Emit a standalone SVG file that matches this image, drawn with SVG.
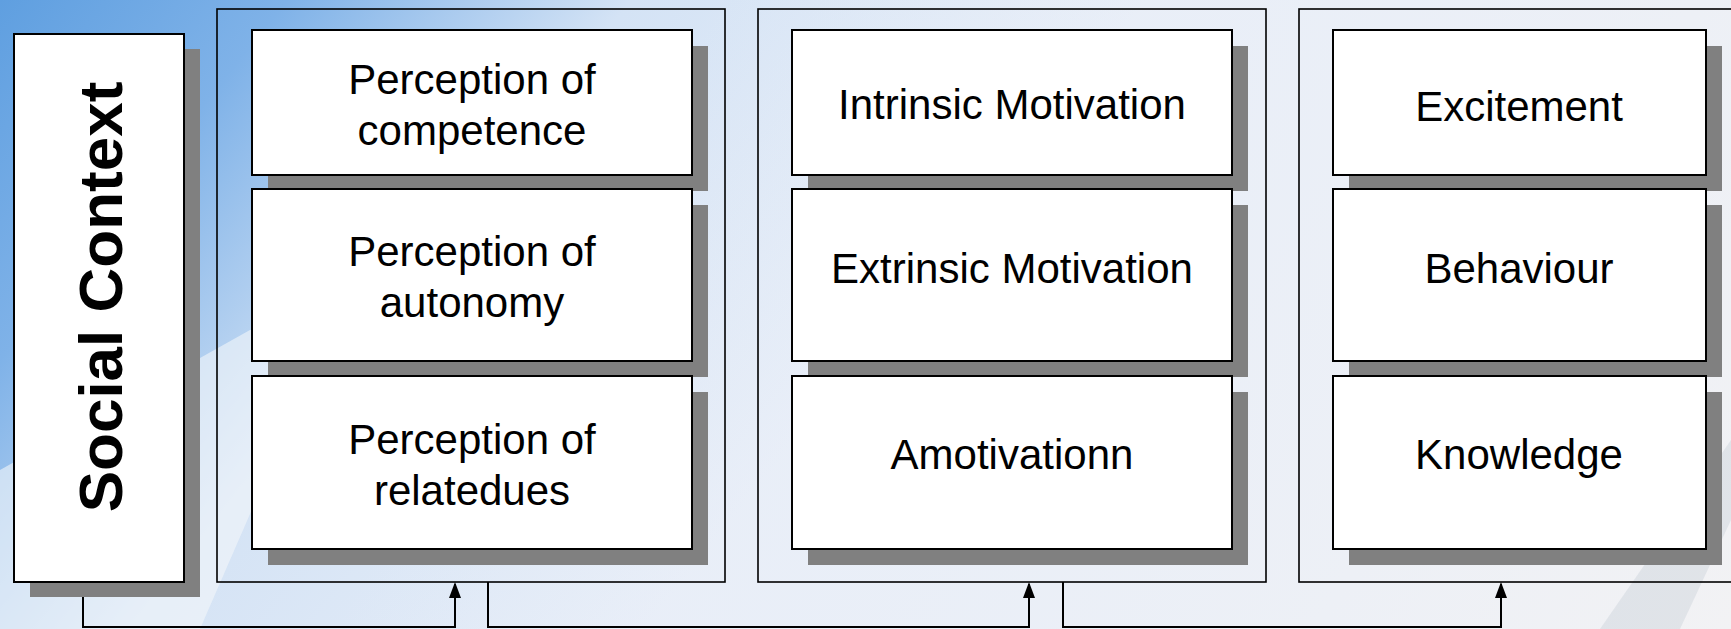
<svg xmlns="http://www.w3.org/2000/svg" width="1731" height="629" viewBox="0 0 1731 629">
<style>
.panel{fill:none;stroke:#000;stroke-width:1.6}
.box{fill:#fff;stroke:#000;stroke-width:2}
.shadow{fill:#808080}
.lbl{font-family:"Liberation Sans",Arial,sans-serif;font-size:42px;fill:#000;text-anchor:middle}
.title{font-family:"Liberation Sans",Arial,sans-serif;font-size:62px;font-weight:bold;fill:#000;text-anchor:middle}
.conn{fill:none;stroke:#000;stroke-width:2}
</style>
<defs>
<linearGradient id="bg" gradientUnits="userSpaceOnUse" x1="0" y1="0" x2="700" y2="560">
<stop offset="0" stop-color="#5f9fe0"/>
<stop offset="0.25" stop-color="#7fb2e8"/>
<stop offset="0.55" stop-color="#d4e3f5"/>
<stop offset="1" stop-color="#e8eef8"/>
</linearGradient>
<linearGradient id="bg2" gradientUnits="userSpaceOnUse" x1="700" y1="0" x2="1731" y2="629">
<stop offset="0" stop-color="#e8eef8" stop-opacity="0"/>
<stop offset="1" stop-color="#f2f2f4" stop-opacity="1"/>
</linearGradient>
<marker id="arr" markerWidth="16" markerHeight="12" refX="14" refY="6" orient="auto" markerUnits="userSpaceOnUse">
<path d="M0,0 L16,6 L0,12 z" fill="#000"/>
</marker>
</defs>
<g id="background">
<rect x="0" y="0" width="1731" height="629" fill="url(#bg)"/>
<rect x="0" y="0" width="1731" height="629" fill="url(#bg2)"/>
<polygon points="0,470 0,629 200,629 330,330 250,330" fill="#f4f6fa" opacity="0.6"/>
<polygon points="1600,629 1680,629 1731,520 1731,440" fill="#b8c2cc" opacity="0.3"/>
</g>
<g id="connectors">
<path class="conn" d="M83,582 V627 H455 V584" marker-end="url(#arr)"/>
<path class="conn" d="M488,582 V627 H1029 V584" marker-end="url(#arr)"/>
<path class="conn" d="M1063,582 V627 H1501 V584" marker-end="url(#arr)"/>
</g>
<g id="social-context">
<rect class="shadow" x="30" y="49" width="170" height="548"/>
<rect class="box" x="14" y="34" width="170" height="548"/>
<text class="title" transform="translate(122,297) rotate(-90)">Social Context</text>
</g>
<g id="panel-perception">
<rect class="panel" x="217" y="9" width="508" height="573"/>
</g>
<g id="perception-competence">
<rect class="shadow" x="268" y="46" width="440" height="145"/>
<rect class="box" x="252" y="30" width="440" height="145"/>
<text class="lbl" x="472" y="94">Perception of</text>
<text class="lbl" x="472" y="145">competence</text>
</g>
<g id="perception-autonomy">
<rect class="shadow" x="268" y="205" width="440" height="172"/>
<rect class="box" x="252" y="189" width="440" height="172"/>
<text class="lbl" x="472" y="266">Perception of</text>
<text class="lbl" x="472" y="317">autonomy</text>
</g>
<g id="perception-relatedues">
<rect class="shadow" x="268" y="392" width="440" height="173"/>
<rect class="box" x="252" y="376" width="440" height="173"/>
<text class="lbl" x="472" y="454">Perception of</text>
<text class="lbl" x="472" y="505">relatedues</text>
</g>
<g id="panel-motivation">
<rect class="panel" x="758" y="9" width="508" height="573"/>
</g>
<g id="intrinsic-motivation">
<rect class="shadow" x="808" y="46" width="440" height="145"/>
<rect class="box" x="792" y="30" width="440" height="145"/>
<text class="lbl" x="1012" y="119">Intrinsic Motivation</text>
</g>
<g id="extrinsic-motivation">
<rect class="shadow" x="808" y="205" width="440" height="172"/>
<rect class="box" x="792" y="189" width="440" height="172"/>
<text class="lbl" x="1012" y="283">Extrinsic Motivation</text>
</g>
<g id="amotivation">
<rect class="shadow" x="808" y="392" width="440" height="173"/>
<rect class="box" x="792" y="376" width="440" height="173"/>
<text class="lbl" x="1012" y="469">Amotivationn</text>
</g>
<g id="panel-outcomes">
<rect class="panel" x="1299" y="9" width="508" height="573"/>
</g>
<g id="excitement">
<rect class="shadow" x="1349" y="46" width="373" height="145"/>
<rect class="box" x="1333" y="30" width="373" height="145"/>
<text class="lbl" x="1519" y="121">Excitement</text>
</g>
<g id="behaviour">
<rect class="shadow" x="1349" y="205" width="373" height="172"/>
<rect class="box" x="1333" y="189" width="373" height="172"/>
<text class="lbl" x="1519" y="283">Behaviour</text>
</g>
<g id="knowledge">
<rect class="shadow" x="1349" y="392" width="373" height="173"/>
<rect class="box" x="1333" y="376" width="373" height="173"/>
<text class="lbl" x="1519" y="469">Knowledge</text>
</g>
</svg>
